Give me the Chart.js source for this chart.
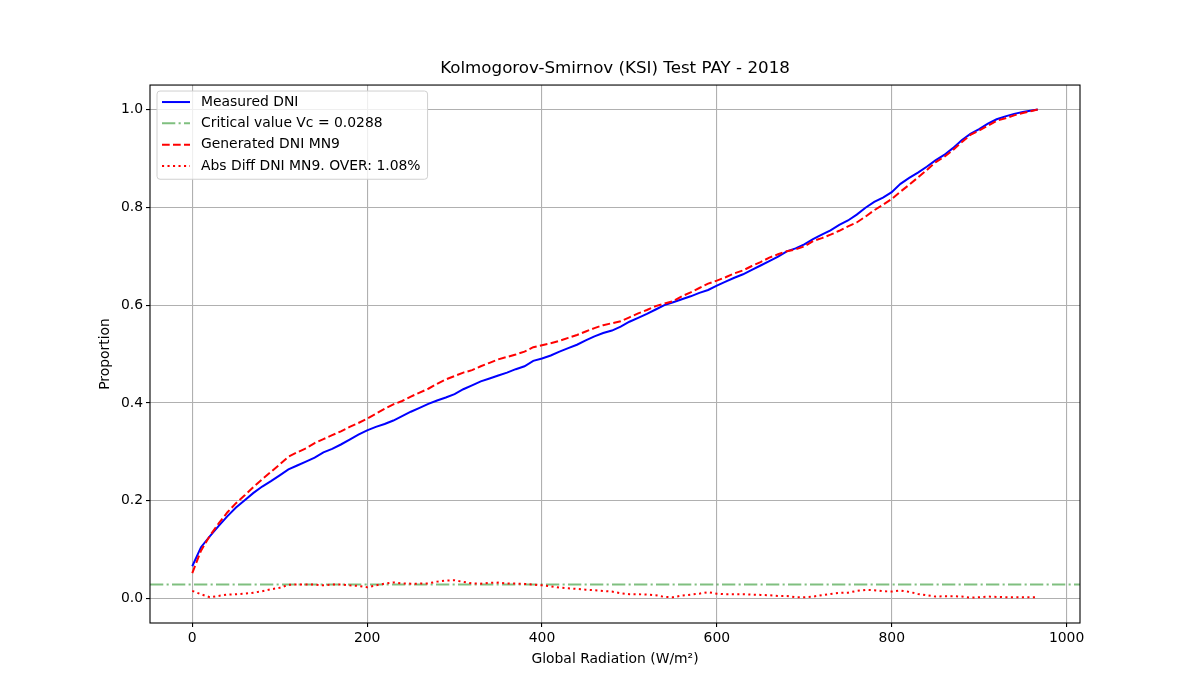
<!DOCTYPE html>
<html>
<head>
<meta charset="utf-8">
<title>KSI Test PAY - 2018</title>
<script src="https://cdn.jsdelivr.net/npm/chart.js@4.4.1/dist/chart.umd.min.js"></script>
<style>
  html, body { margin: 0; padding: 0; background: #fff; }
  canvas { display: block; }
</style>
</head>
<body>
<canvas id="ksiChart" width="1200" height="700"></canvas>
<script>
// radiation bins (W/m2)
var radiation = [0, 10, 20, 30, 40, 50, 60, 70, 80, 90,
    100, 110, 120, 130, 140, 150, 160, 170, 180, 190,
    200, 210, 220, 230, 240, 250, 260, 270, 280, 290,
    300, 310, 320, 330, 340, 350, 360, 370, 380, 390,
    400, 410, 420, 430, 440, 450, 460, 470, 480, 490,
    500, 510, 520, 530, 540, 550, 560, 570, 580, 590,
    600, 610, 620, 630, 640, 650, 660, 670, 680, 690,
    700, 710, 720, 730, 740, 750, 760, 770, 780, 790,
    800, 810, 820, 830, 840, 850, 860, 870, 880, 890,
    900, 910, 920, 930, 940, 950, 960, 967];

var measuredDni = [0.066, 0.105, 0.127, 0.148, 0.168, 0.186, 0.201, 0.216, 0.229, 0.240,
    0.252, 0.264, 0.272, 0.280, 0.288, 0.299, 0.306, 0.315, 0.325, 0.335,
    0.344, 0.351, 0.357, 0.364, 0.373, 0.382, 0.390, 0.398, 0.405, 0.411,
    0.418, 0.428, 0.436, 0.444, 0.450, 0.456, 0.462, 0.469, 0.475, 0.486,
    0.491, 0.497, 0.505, 0.512, 0.519, 0.528, 0.536, 0.543, 0.548, 0.556,
    0.566, 0.574, 0.582, 0.591, 0.600, 0.606, 0.612, 0.618, 0.625, 0.631,
    0.640, 0.648, 0.656, 0.663, 0.672, 0.681, 0.690, 0.699, 0.710, 0.716,
    0.724, 0.735, 0.744, 0.753, 0.764, 0.773, 0.785, 0.799, 0.811, 0.820,
    0.831, 0.848, 0.860, 0.871, 0.883, 0.896, 0.907, 0.921, 0.937, 0.950,
    0.960, 0.971, 0.980, 0.986, 0.991, 0.995, 0.998, 1.000];

var generatedDni = [0.052, 0.098, 0.128, 0.153, 0.176, 0.195, 0.211, 0.228, 0.244, 0.259,
    0.274, 0.290, 0.299, 0.307, 0.318, 0.326, 0.334, 0.342, 0.351, 0.359,
    0.368, 0.378, 0.388, 0.397, 0.404, 0.413, 0.421, 0.429, 0.439, 0.448,
    0.455, 0.462, 0.467, 0.475, 0.482, 0.489, 0.494, 0.499, 0.505, 0.514,
    0.518, 0.522, 0.527, 0.533, 0.539, 0.546, 0.553, 0.559, 0.563, 0.567,
    0.575, 0.583, 0.590, 0.598, 0.603, 0.608, 0.618, 0.626, 0.635, 0.644,
    0.650, 0.657, 0.665, 0.671, 0.680, 0.688, 0.697, 0.704, 0.710, 0.714,
    0.720, 0.731, 0.737, 0.744, 0.752, 0.761, 0.769, 0.781, 0.794, 0.805,
    0.817, 0.832, 0.846, 0.861, 0.876, 0.892, 0.903, 0.917, 0.933, 0.948,
    0.957, 0.967, 0.977, 0.982, 0.988, 0.993, 0.997, 1.000];

var absDiff = [0.0156, 0.0088, 0.0027, 0.0054, 0.0080, 0.0088, 0.0100, 0.0120, 0.0150, 0.0190,
    0.0220, 0.0280, 0.0290, 0.0285, 0.0285, 0.0270, 0.0285, 0.0285, 0.0270, 0.0260,
    0.0230, 0.0270, 0.0305, 0.0330, 0.0310, 0.0305, 0.0305, 0.0310, 0.0346, 0.0367,
    0.0373, 0.0340, 0.0310, 0.0305, 0.0320, 0.0326, 0.0310, 0.0305, 0.0300, 0.0285,
    0.0270, 0.0250, 0.0224, 0.0210, 0.0197, 0.0180, 0.0170, 0.0156, 0.0143, 0.0110,
    0.0088, 0.0088, 0.0080, 0.0068, 0.0034, 0.0027, 0.0060, 0.0080, 0.0100, 0.0130,
    0.0100, 0.0088, 0.0088, 0.0088, 0.0080, 0.0075, 0.0068, 0.0054, 0.0054, 0.0027,
    0.0027, 0.0040, 0.0068, 0.0095, 0.0115, 0.0120, 0.0156, 0.0177, 0.0170, 0.0150,
    0.0143, 0.0163, 0.0136, 0.0095, 0.0068, 0.0040, 0.0048, 0.0048, 0.0040, 0.0020,
    0.0027, 0.0040, 0.0034, 0.0027, 0.0027, 0.0027, 0.0027, 0.0027];

var criticalValue = 0.0288;
var xTicks = [0, 200, 400, 600, 800, 1000];
var yTicks = [0.0, 0.2, 0.4, 0.6, 0.8, 1.0];

var xMin = -48.35, xMax = 1015.35;
var yMin = -0.05, yMax = 1.05;

function toPoints(ys) {
    return radiation.map(function (x, i) { return { x: x, y: ys[i] }; });
}

Chart.defaults.font.family = "'DejaVu Sans', sans-serif";
Chart.defaults.font.size = 13.9;
Chart.defaults.color = '#000';

// axes frame (matplotlib style box)
var framePlugin = {
    id: 'frame',
    afterDatasetsDraw: function (chart) {
        var a = chart.chartArea, ctx = chart.ctx;
        ctx.save();
        ctx.strokeStyle = '#000';
        ctx.lineWidth = 1.1;
        ctx.strokeRect(a.left, a.top, a.right - a.left, a.bottom - a.top);
        ctx.restore();
    }
};

// legend in the upper left corner of the axes
var insideLegend = {
    id: 'insideLegend',
    afterDatasetsDraw: function (chart) {
        var a = chart.chartArea, ctx = chart.ctx;
        var sets = chart.data.datasets;
        ctx.save();
        ctx.font = '13.9px "DejaVu Sans"';
        var maxW = 0;
        sets.forEach(function (d) { maxW = Math.max(maxW, ctx.measureText(d.label).width); });
        var bx = a.left + 7, by = a.top + 6;
        var rowH = 21.3;
        var bw = 44 + maxW + 7, bh = sets.length * rowH + 3;
        ctx.beginPath();
        ctx.roundRect(bx, by, bw, bh, 3);
        ctx.fillStyle = 'rgba(255,255,255,0.8)';
        ctx.fill();
        ctx.strokeStyle = '#d0d0d0';
        ctx.lineWidth = 1;
        ctx.stroke();
        sets.forEach(function (d, i) {
            var cy = by + 11 + i * rowH;
            ctx.beginPath();
            ctx.setLineDash(d.borderDash || []);
            ctx.strokeStyle = d.borderColor;
            ctx.lineWidth = d.borderWidth;
            ctx.moveTo(bx + 5, cy);
            ctx.lineTo(bx + 33, cy);
            ctx.stroke();
            ctx.setLineDash([]);
            ctx.fillStyle = '#000';
            ctx.textBaseline = 'middle';
            ctx.fillText(d.label, bx + 44, cy);
        });
        ctx.restore();
    }
};

var ctx = document.getElementById('ksiChart').getContext('2d');
new Chart(ctx, {
    type: 'line',
    data: {
        datasets: [{
            label: 'Measured DNI',
            data: toPoints(measuredDni),
            borderColor: '#0000ff',
            borderWidth: 2,
            order: 3
        }, {
            label: 'Critical value Vc = ' + criticalValue,
            data: [{ x: xMin, y: criticalValue }, { x: xMax, y: criticalValue }],
            borderColor: 'rgba(0,128,0,0.5)',
            borderWidth: 2,
            borderDash: [13.3, 3.3, 2.1, 3.3],
            order: 2
        }, {
            label: 'Generated DNI MN9',
            data: toPoints(generatedDni),
            borderColor: '#ff0000',
            borderWidth: 2,
            borderDash: [7.7, 3.3],
            order: 1
        }, {
            label: 'Abs Diff DNI MN9. OVER: 1.08%',
            data: toPoints(absDiff),
            borderColor: '#ff0000',
            borderWidth: 2,
            borderDash: [2.1, 3.4],
            order: 0
        }]
    },
    options: {
        responsive: false,
        animation: false,
        devicePixelRatio: 1,
        elements: {
            point: { radius: 0 },
            line: { tension: 0, fill: false }
        },
        layout: { padding: { left: 0, right: 120, top: 0, bottom: 0 } },
        plugins: {
            legend: { display: false },
            tooltip: { enabled: false },
            title: {
                display: true,
                fullSize: false,
                text: 'Kolmogorov-Smirnov (KSI) Test PAY - 2018',
                font: { size: 16.7, weight: 'normal' },
                color: '#000',
                padding: { top: 59, bottom: 6 }
            }
        },
        scales: {
            x: {
                type: 'linear',
                min: xMin,
                max: xMax,
                afterFit: function (s) { s.height = 77; },
                afterBuildTicks: function (s) { s.ticks = xTicks.map(function (v) { return { value: v }; }); },
                ticks: {
                    padding: 3,
                    maxRotation: 0,
                    callback: function (v) { return String(v); }
                },
                grid: { color: '#b0b0b0', lineWidth: 1.1, tickColor: '#000', tickLength: 4 },
                border: { display: false },
                title: {
                    display: true,
                    text: 'Global Radiation (W/m²)',
                    padding: { top: 0, bottom: 32 }
                }
            },
            y: {
                type: 'linear',
                min: yMin,
                max: yMax,
                afterFit: function (s) { s.width = 150; },
                afterBuildTicks: function (s) { s.ticks = yTicks.map(function (v) { return { value: v }; }); },
                ticks: {
                    padding: 3,
                    callback: function (v) { return v.toFixed(1); }
                },
                grid: { color: '#b0b0b0', lineWidth: 1.1, tickColor: '#000', tickLength: 4 },
                border: { display: false },
                title: {
                    display: true,
                    text: 'Proportion',
                    padding: { top: 97, bottom: 0 }
                }
            }
        }
    },
    plugins: [framePlugin, insideLegend]
});
</script>
</body>
</html>
